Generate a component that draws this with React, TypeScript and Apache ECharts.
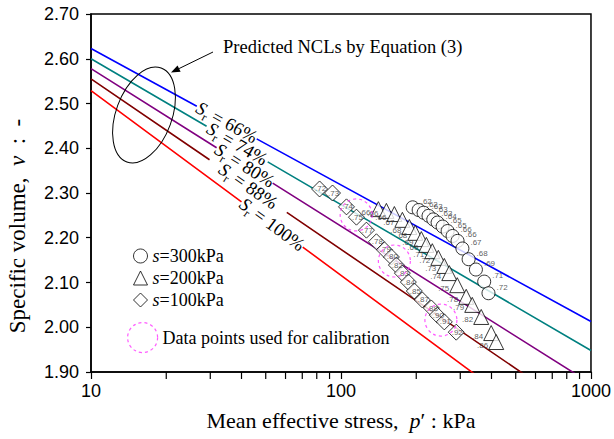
import React, { useEffect, useRef } from "react";
import * as echarts from "echarts";

// Predicted normal compression lines (NCLs), one per degree of saturation
const nclSr = ["66%", "74%", "80%", "88%", "100%"];
// specific volume v at p' = 10 kPa
const nclV10 = [2.623, 2.6, 2.578, 2.555, 2.529];
// drop of v per log10 cycle of p'
const nclSlope = [0.305, 0.326, 0.352, 0.381, 0.413];

// s = 300 kPa tests: p' (kPa), v, Sr
const p300 = [193.5, 204.5, 214, 224, 234, 243.5, 255, 267, 279.5, 292.6, 306, 324, 346.5, 374, 389];
const v300 = [2.268, 2.262, 2.256, 2.249, 2.241, 2.234, 2.225, 2.215, 2.204, 2.193, 2.176, 2.152, 2.129, 2.102, 2.076];
const sr300 = [0.62, 0.62, 0.63, 0.63, 0.63, 0.64, 0.65, 0.65, 0.66, 0.66, 0.67, 0.68, 0.69, 0.71, 0.72];

// s = 200 kPa tests
const p200 = [141.1, 151.9, 163.5, 176.0, 187.7, 198.3, 209.6, 219.5, 231.9, 245.1, 259.0, 271.2, 291.8, 316.9, 335.0, 363.9, 398.9, 417.7];
const v200 = [2.264, 2.26, 2.253, 2.24, 2.224, 2.211, 2.197, 2.184, 2.17, 2.155, 2.137, 2.121, 2.094, 2.068, 2.05, 2.023, 1.987, 1.967];
const sr200 = [0.66, 0.66, 0.66, 0.67, 0.68, 0.68, 0.69, 0.69, 0.71, 0.72, 0.73, 0.74, 0.75, 0.78, 0.79, 0.82, 0.84, 0.86];

// s = 100 kPa tests
const p100 = [82.1, 92.5, 105.2, 115.3, 126.4, 138.6, 149.2, 159.1, 166.6, 176.0, 186.0, 196.5, 211.5, 229.8, 242.8, 259.0, 289.1];
const v100 = [2.309, 2.3, 2.269, 2.246, 2.217, 2.191, 2.173, 2.157, 2.139, 2.121, 2.101, 2.081, 2.061, 2.043, 2.027, 2.012, 1.989];
const sr100 = [0.72, 0.73, 0.74, 0.75, 0.77, 0.78, 0.79, 0.8, 0.82, 0.83, 0.84, 0.85, 0.87, 0.88, 0.9, 0.91, 0.92];

// points used to calibrate the model
const pCal = [115, 163.5, 251];
const vCal = [2.251, 2.148, 2.016];

// log-axis minor tick values
const minorTicks = [20, 30, 40, 50, 60, 70, 80, 90, 200, 300, 400, 500, 600, 700, 800, 900];

// styling / layout
const nclColors = ["#0000ff", "#008080", "#800080", "#800000", "#ff0000"];
const nclLabelGap = [[26.5, 46], [29, 50.9], [31.8, 53.3], [29.8, 60.7], [40, 70.3]];
const SERIF = "Liberation Serif";
const SANS = "Liberation Sans";
const CAL_COLOR = "#ff33ff";

const srText = (v: number) => v.toFixed(2).slice(1);
const nclV = (i: number, p: number) => nclV10[i] - nclSlope[i] * Math.log10(p / 10);

export default function App() {
  const ref = useRef<HTMLDivElement>(null);

  useEffect(() => {
    const chart = echarts.init(ref.current!, undefined, { renderer: "svg" });

    const lineSeries = nclSr.map((sr, i) => {
      const [a, b] = nclLabelGap[i];
      return {
        type: "line",
        name: "Sr = " + sr,
        data: [
          [10, nclV(i, 10)],
          [a, nclV(i, a)],
          [Math.sqrt(a * b), "-"],
          [b, nclV(i, b)],
          [1000, nclV(i, 1000)],
        ],
        symbol: "none",
        showSymbol: false,
        connectNulls: false,
        clip: true,
        silent: true,
        lineStyle: { color: nclColors[i], width: 1.6 },
        z: 2,
      };
    });

    const pointLabel = {
      show: true,
      fontSize: 8,
      fontFamily: SANS,
      color: "#333",
      formatter: (d: any) => srText(d.value[2]),
    };
    const markerStyle = { color: "#ffffff", borderColor: "#000", borderWidth: 1 };

    const legendText = {
      fontFamily: SERIF,
      fontSize: 18,
      color: "#000",
      lineHeight: 20,
      rich: {
        i: { fontFamily: SERIF, fontSize: 18, fontStyle: "italic", color: "#000", lineHeight: 20 },
        t: { fontFamily: SERIF, fontSize: 18, color: "#000", lineHeight: 20 },
      },
    };

    chart.setOption({
      animation: false,
      grid: {
        left: 91,
        right: 22,
        top: 14,
        bottom: 67,
        show: true,
        borderColor: "#000",
        borderWidth: 1.5,
        backgroundColor: "transparent",
      },
      xAxis: {
        type: "log",
        logBase: 10,
        min: 10,
        max: 1000,
        axisLine: { lineStyle: { color: "#000", width: 1.5 } },
        axisTick: { length: 7, lineStyle: { color: "#000", width: 1.2 } },
        axisLabel: {
          color: "#000",
          fontSize: 18,
          fontFamily: SANS,
          margin: 10,
          formatter: (v: number) => String(Math.round(v)),
        },
        splitLine: { show: false },
      },
      yAxis: {
        type: "value",
        min: 1.9,
        max: 2.7,
        interval: 0.1,
        axisLine: { show: true, lineStyle: { color: "#000", width: 1.5 } },
        axisTick: { show: true, length: 5, lineStyle: { color: "#000", width: 1.2 } },
        axisLabel: {
          color: "#000",
          fontSize: 18,
          fontFamily: SANS,
          margin: 12,
          formatter: (v: number) => v.toFixed(2),
        },
        splitLine: { show: false },
      },
      legend: [
        {
          orient: "vertical",
          left: 133,
          top: 246,
          padding: 0,
          itemGap: 2,
          itemWidth: 14,
          itemHeight: 14,
          selectedMode: false,
          data: [
            { name: "s=300kPa", icon: "circle" },
            { name: "s=200kPa", icon: "triangle" },
            { name: "s=100kPa", icon: "diamond" },
          ],
          itemStyle: { borderWidth: 1 },
          formatter: (name: string) => `{i|s}{t|${name.slice(1)}}`,
          textStyle: legendText,
        },
        {
          orient: "vertical",
          left: 127,
          top: 322,
          padding: 0,
          itemWidth: 30,
          itemHeight: 30,
          selectedMode: false,
          data: [{ name: "Data points used for calibration", icon: "circle" }],
          itemStyle: {
            color: "transparent",
            borderColor: CAL_COLOR,
            borderWidth: 1.2,
            borderType: [3, 3],
          },
          textStyle: { fontFamily: SERIF, fontSize: 18, color: "#000" },
        },
      ],
      series: [
        ...lineSeries,
        {
          type: "custom",
          silent: true,
          data: minorTicks.map((t) => [t, 1.9]),
          renderItem: (_params: any, api: any) => {
            const pt = api.coord([api.value(0), api.value(1)]);
            return {
              type: "line",
              shape: { x1: pt[0], y1: pt[1], x2: pt[0], y2: pt[1] + 7 },
              style: { stroke: "#000", lineWidth: 1.2 },
            };
          },
          z: 5,
        },
        {
          type: "scatter",
          name: "s=300kPa",
          symbol: "circle",
          symbolSize: 13,
          silent: true,
          data: p300.map((p, i) => [p, v300[i], sr300[i]]),
          itemStyle: markerStyle,
          label: { ...pointLabel, position: "right", distance: 1, offset: [0, -6] },
          z: 3,
        },
        {
          type: "scatter",
          name: "s=200kPa",
          symbol: "triangle",
          symbolSize: 15,
          silent: true,
          data: p200.map((p, i) => [p, v200[i], sr200[i]]),
          itemStyle: markerStyle,
          label: { ...pointLabel, position: "left", distance: 0, offset: [0, 3] },
          z: 3,
        },
        {
          type: "scatter",
          name: "s=100kPa",
          symbol: "diamond",
          symbolSize: 16,
          silent: true,
          data: p100.map((p, i) => [p, v100[i], sr100[i]]),
          itemStyle: markerStyle,
          label: { ...pointLabel, position: "inside", offset: [1, 0] },
          z: 3,
        },
        {
          type: "scatter",
          name: "Data points used for calibration",
          symbol: "circle",
          symbolSize: 32,
          silent: true,
          data: pCal.map((p, i) => [p, vCal[i]]),
          itemStyle: {
            color: "transparent",
            borderColor: CAL_COLOR,
            borderWidth: 1.2,
            borderType: [3, 3],
          },
          z: 4,
        },
      ],
    });

    // rotated "Sr = xx%" labels sitting in the gaps of the NCLs
    const srLabels = nclSr.map((sr, i) => {
      const [a, b] = nclLabelGap[i];
      const pa = chart.convertToPixel({ gridIndex: 0 }, [a, nclV(i, a)]) as number[];
      const pb = chart.convertToPixel({ gridIndex: 0 }, [b, nclV(i, b)]) as number[];
      const ang = Math.atan2(pb[1] - pa[1], pb[0] - pa[0]);
      return {
        type: "text",
        x: (pa[0] + pb[0]) / 2,
        y: (pa[1] + pb[1]) / 2,
        rotation: -ang,
        silent: true,
        z: 10,
        style: {
          text: `{s|S}{r|r}{t| = ${sr}}`,
          align: "center",
          verticalAlign: "middle",
          fill: "#000",
          rich: {
            s: { fontFamily: SERIF, fontSize: 18.5, fontStyle: "italic", lineHeight: 24, fill: "#000" },
            r: { fontFamily: SERIF, fontSize: 12, lineHeight: 12, verticalAlign: "bottom", fill: "#000" },
            t: { fontFamily: SERIF, fontSize: 18.5, lineHeight: 24, fill: "#000" },
          },
        },
      };
    });

    // callout arrow
    const tail = [213, 52];
    const tip = [171, 72.5];
    const dx = tip[0] - tail[0];
    const dy = tip[1] - tail[1];
    const len = Math.hypot(dx, dy);
    const ux = dx / len;
    const uy = dy / len;
    const headL = 9;
    const headW = 3.5;
    const bx = tip[0] - ux * headL;
    const by = tip[1] - uy * headL;

    chart.setOption({
      graphic: [
        {
          type: "text",
          x: 17,
          y: 226,
          rotation: Math.PI / 2,
          silent: true,
          style: {
            text: "Specific volume,  {i|v}  :  -",
            align: "center",
            verticalAlign: "middle",
            fontFamily: SERIF,
            fontSize: 23,
            fill: "#000",
            rich: { i: { fontFamily: SERIF, fontSize: 23, fontStyle: "italic", fill: "#000" } },
          },
        },
        {
          type: "text",
          x: 341,
          y: 420,
          silent: true,
          style: {
            text: "Mean effective stress,  {i|p}′ : kPa",
            align: "center",
            verticalAlign: "middle",
            fontFamily: SERIF,
            fontSize: 22,
            fill: "#000",
            rich: { i: { fontFamily: SERIF, fontSize: 22, fontStyle: "italic", fill: "#000" } },
          },
        },
        {
          type: "text",
          x: 223,
          y: 47,
          silent: true,
          style: {
            text: "Predicted NCLs by Equation (3)",
            align: "left",
            verticalAlign: "middle",
            fontFamily: SERIF,
            fontSize: 18.5,
            fill: "#000",
          },
        },
        {
          type: "line",
          silent: true,
          shape: { x1: tail[0], y1: tail[1], x2: bx, y2: by },
          style: { stroke: "#000", lineWidth: 1 },
        },
        {
          type: "polygon",
          silent: true,
          shape: {
            points: [
              [tip[0], tip[1]],
              [bx - uy * headW, by + ux * headW],
              [bx + uy * headW, by - ux * headW],
            ],
          },
          style: { fill: "#000" },
        },
        {
          type: "ellipse",
          x: 144,
          y: 115,
          rotation: -0.35,
          silent: true,
          shape: { cx: 0, cy: 0, rx: 28, ry: 50 },
          style: { fill: "none", stroke: "#000", lineWidth: 1 },
          z: 10,
        },
        ...srLabels,
      ],
    });

    return () => chart.dispose();
  }, []);

  return (
    <div
      ref={ref}
      style={{ position: "fixed", left: 0, top: 0, width: 614, height: 439, background: "#fff" }}
    />
  );
}
